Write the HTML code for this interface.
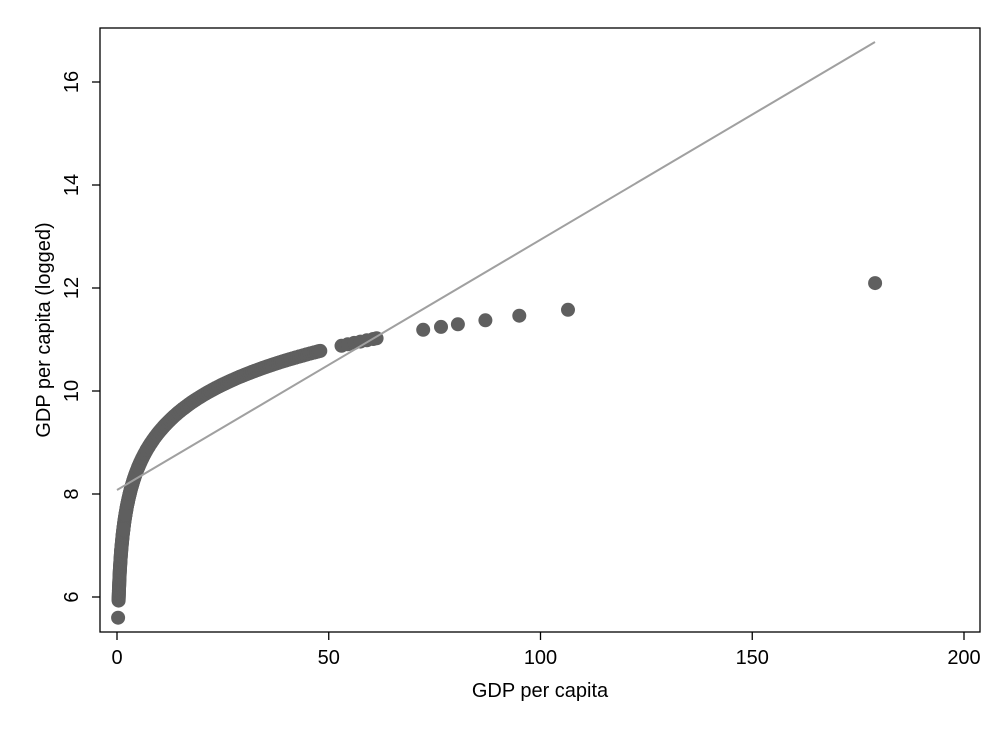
<!DOCTYPE html>
<html><head><meta charset="utf-8"><style>
html,body{margin:0;padding:0;background:#fff;}
svg text{font-family:"Liberation Sans",Arial,sans-serif;fill:#000;}
</style></head><body>
<svg id="s" width="1007" height="733" viewBox="0 0 1007 733" xmlns="http://www.w3.org/2000/svg">
<rect x="0" y="0" width="1007" height="733" fill="#fff"/>
<rect x="100" y="28" width="880" height="604" fill="none" stroke="#000" stroke-width="1.3"/>
<g stroke="#000" stroke-width="1.3">
<line x1="117" y1="632" x2="117" y2="640"/><line x1="328.75" y1="632" x2="328.75" y2="640"/>
<line x1="540.5" y1="632" x2="540.5" y2="640"/><line x1="752.25" y1="632" x2="752.25" y2="640"/>
<line x1="964" y1="632" x2="964" y2="640"/>
<line x1="92" y1="597" x2="100" y2="597"/><line x1="92" y1="494" x2="100" y2="494"/>
<line x1="92" y1="391" x2="100" y2="391"/><line x1="92" y1="288" x2="100" y2="288"/>
<line x1="92" y1="185" x2="100" y2="185"/><line x1="92" y1="82" x2="100" y2="82"/>
</g>
<g font-size="20" text-anchor="middle">
<text x="117" y="664">0</text><text x="328.75" y="664">50</text><text x="540.5" y="664">100</text>
<text x="752.25" y="664">150</text><text x="964" y="664">200</text>
<text x="540" y="697">GDP per capita</text>
<text transform="translate(78,597) rotate(-90)">6</text>
<text transform="translate(78,494) rotate(-90)">8</text>
<text transform="translate(78,391) rotate(-90)">10</text>
<text transform="translate(78,288) rotate(-90)">12</text>
<text transform="translate(78,185) rotate(-90)">14</text>
<text transform="translate(78,82) rotate(-90)">16</text>
<text transform="translate(50,330) rotate(-90)">GDP per capita (logged)</text>
</g>
<g id="pts" fill="#5f5f5f"></g>
<line x1="117" y1="490" x2="875" y2="42" stroke="#a0a0a0" stroke-width="2"/>
</svg>
<script>
var g=document.getElementById('pts'),h='';
function X(v){return 117+v*4.235;}
function Y(v){return 597-(v-6)*51.5;}
function c(x){h+='<circle cx="'+X(x).toFixed(1)+'" cy="'+Y(Math.log(x*1000)).toFixed(1)+'" r="7"/>';}
c(0.27);
for(var v=5.93;v<10.78;v+=0.02)c(Math.exp(v)/1000);
for(var x=1;x<=48;x+=0.5)c(x);
[53,54.5,56,57.5,59,60.5,61.3,72.3,76.5,80.5,87,95,106.5,179].forEach(c);
g.innerHTML=h;
</script>
</body></html>
